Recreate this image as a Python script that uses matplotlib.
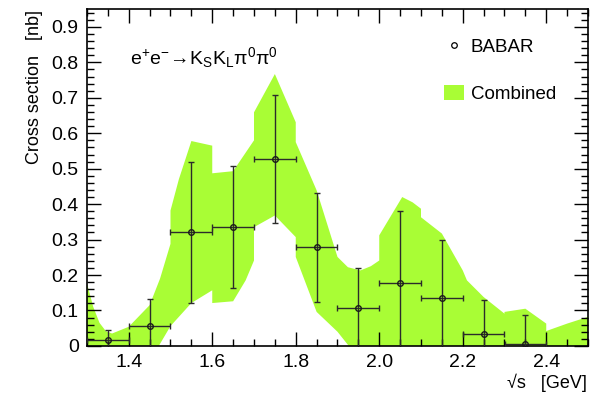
import numpy as np
import matplotlib
matplotlib.use("Agg")
import matplotlib.pyplot as plt
from matplotlib.lines import Line2D
from matplotlib.patches import Patch
from matplotlib.ticker import MultipleLocator

plt.rcParams['font.family'] = ['Liberation Sans', 'DejaVu Sans']
plt.rcParams['mathtext.fontset'] = 'custom'
plt.rcParams['mathtext.rm'] = 'Liberation Sans'
plt.rcParams['mathtext.it'] = 'Liberation Sans:italic'

# BABAR points
babar_x = [1.35, 1.45, 1.55, 1.65, 1.75, 1.85, 1.95, 2.05, 2.15, 2.25, 2.35]
babar_y = [0.016, 0.056, 0.320, 0.336, 0.527, 0.278, 0.108, 0.177, 0.134, 0.035, 0.006]
babar_err = [0.030, 0.076, 0.200, 0.173, 0.180, 0.153, 0.113, 0.203, 0.166, 0.094, 0.080]
babar_xerr = 0.05

# combined band, upper edge
band_up_x = [1.30, 1.315, 1.33, 1.345, 1.36, 1.40, 1.45, 1.475, 1.50, 1.50, 1.52, 1.55,
             1.60, 1.60, 1.65, 1.70, 1.70, 1.75, 1.80, 1.80, 1.85, 1.90, 1.925, 1.955,
             1.98, 2.00, 2.00, 2.055, 2.08, 2.10, 2.10, 2.15, 2.20, 2.21, 2.25, 2.30,
             2.30, 2.35, 2.40, 2.40, 2.45, 2.50]
band_up_y = [0.176, 0.110, 0.065, 0.042, 0.035, 0.054, 0.115, 0.190, 0.288, 0.382, 0.470, 0.578,
             0.565, 0.487, 0.493, 0.580, 0.659, 0.767, 0.631, 0.575, 0.439, 0.251, 0.222, 0.213,
             0.225, 0.241, 0.312, 0.420, 0.405, 0.387, 0.363, 0.317, 0.213, 0.185, 0.138, 0.091,
             0.096, 0.105, 0.063, 0.042, 0.063, 0.082]
# combined band, lower edge
band_lo_x = [1.30, 1.472, 1.50, 1.55, 1.60, 1.60, 1.65, 1.68, 1.70, 1.70, 1.75, 1.80,
             1.80, 1.85, 1.90, 1.927, 2.50]
band_lo_y = [0.0, 0.0, 0.056, 0.121, 0.157, 0.121, 0.126, 0.185, 0.241, 0.335, 0.368, 0.307,
             0.251, 0.096, 0.040, 0.0, 0.0]

green = '#a9fd35'

fig = plt.figure(figsize=(6, 3.99), dpi=100)
ax = fig.add_axes([0.145, 0.133, 0.835, 0.844])

ax.fill(np.concatenate([band_up_x, band_lo_x[::-1]]),
        np.concatenate([band_up_y, band_lo_y[::-1]]),
        color=green, lw=0, zorder=1)

ax.errorbar(babar_x, babar_y, xerr=babar_xerr, yerr=babar_err, fmt='o',
            ms=4, mfc='none', mec='#1a1a1a', mew=1.0, ecolor='#2b2b2b',
            elinewidth=1.0, capsize=2, capthick=1.0, zorder=3)

ax.set_xlim(1.3, 2.5)
ax.set_ylim(0, 0.95)
ax.xaxis.set_major_locator(MultipleLocator(0.2))
ax.xaxis.set_minor_locator(MultipleLocator(0.05))
ax.yaxis.set_minor_locator(MultipleLocator(0.02))
ax.set_yticks(np.arange(0, 0.91, 0.1))
ax.set_yticklabels(['0'] + ['%.1f' % v for v in np.arange(0.1, 0.91, 0.1)])
ax.tick_params(which='both', direction='in', top=True, right=True, labelsize=14, width=1)
ax.tick_params(which='major', length=10, pad=6)
ax.tick_params(which='minor', length=5)
for s in ax.spines.values():
    s.set_linewidth(1.2)

fig.text(0.058, 0.975, 'Cross section   [nb]', rotation=90, ha='center', va='top', fontsize=13)
fig.text(0.978, 0.04, '\u221as   [GeV]', ha='right', va='center', fontsize=13)

ax.text(0.086, 0.855, r'$\mathregular{e^{+}e^{-}\!\rightarrow\!K_{S}K_{L}\pi^{0}\pi^{0}}$',
        transform=ax.transAxes, fontsize=14, va='center', ha='left')

handles = [Line2D([], [], ls='none', marker='o', ms=4, mfc='none', mec='black', mew=0.9),
           Patch(facecolor=green, edgecolor='none')]
ax.legend(handles, ['BABAR', 'Combined'], loc='upper left', bbox_to_anchor=(0.678, 0.964),
          frameon=False, fontsize=13.5, labelspacing=1.5, handlelength=1.1,
          handleheight=0.9, handletextpad=0.35)

fig.savefig('out.png', dpi=100)
